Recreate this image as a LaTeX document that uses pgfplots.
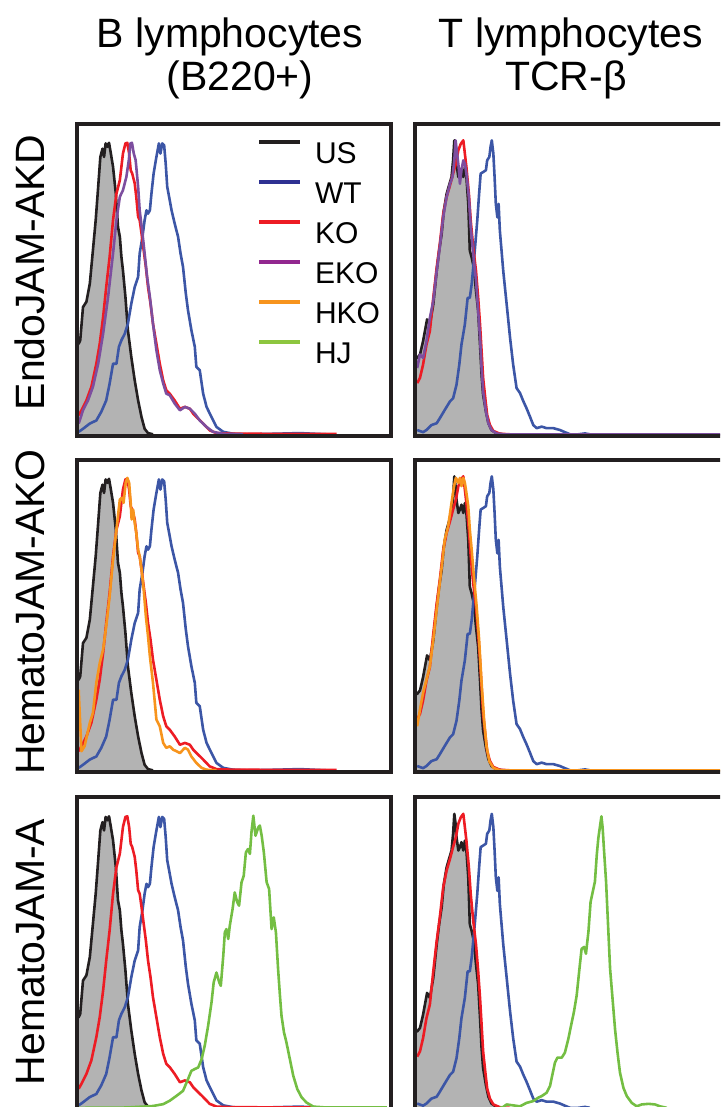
\documentclass[border=0pt]{standalone}
\usepackage{fontspec}
\setmainfont{Liberation Sans}
\usepackage{pgfplots}
\usepackage{pgfplotstable}
\pgfplotsset{compat=1.18}

\definecolor{frame}{HTML}{231F20}
\definecolor{usfill}{HTML}{B3B3B3}
\definecolor{wtc}{HTML}{3C56A6}
\definecolor{koc}{HTML}{ED1C24}
\definecolor{ekoc}{HTML}{7D4E9F}
\definecolor{hkoc}{HTML}{F7941D}
\definecolor{hjc}{HTML}{74BE43}
\definecolor{legwt}{HTML}{2E3192}
\definecolor{legeko}{HTML}{92278F}
\definecolor{leghj}{HTML}{8DC63F}

% B lymphocytes (B220+) histograms, x and y in % of the box
\pgfplotstableread{
x y
-1 29.4
0 29.4
0.5 30.5
1.4 41.3
2.5 43.0
3.6 48.9
4.6 59.7
5.5 69.5
6.3 80.3
7.0 90.0
7.7 92.7
8.2 90.0
8.7 94.4
9.3 93.3
9.8 94.6
10.3 91.7
11.1 86.8
12.0 78.1
12.7 67.3
13.3 64.1
13.8 57.6
14.3 53.2
15.1 44.6
15.9 33.8
17.0 25.1
18.1 17.5
19.2 11.0
20.3 5.6
21.3 1.8
22.4 0.4
24.0 0
}\BUS

\pgfplotstableread{
x y
0 0.8
1.4 1.8
3.6 3.5
5.7 4.5
7.3 7.3
8.9 11.0
10.0 16.5
11.1 22.9
12.2 22.9
13.0 28.4
13.8 30.5
14.9 32.7
15.9 35.9
17.0 42.4
18.1 47.8
19.2 51.1
19.7 58.7
20.6 64.1
21.3 69.5
21.9 72.7
22.4 71.6
23.0 72.7
23.5 78.1
24.2 84.6
25.1 90.0
25.9 94.4
26.4 91.1
27.0 94.4
27.6 93.8
28.1 87.9
28.6 80.3
29.2 77.1
30.0 72.7
31.0 68.4
32.1 64.1
32.9 58.7
33.7 54.3
34.6 45.7
35.3 40.3
36.4 33.8
37.5 28.4
38.0 21.9
39.1 20.8
40.2 13.2
41.3 8.9
42.9 5.6
44.5 2.4
46.7 0.8
49.9 0.2
54.2 0
63.9 0.2
71.4 0.4
80.1 0
}\BWT

\pgfplotstableread{
x y
0 6.2
0.9 7.8
2.5 11.0
4.1 15.4
5.7 22.9
6.8 29.4
7.9 38.1
8.9 47.8
10.0 57.6
11.1 69.5
12.2 78.1
13.3 82.5
14.3 91.1
15.1 94.4
15.7 94.6
16.3 91.1
16.8 85.7
17.3 84.6
18.1 81.4
18.6 77.1
19.2 70.6
19.7 69.5
20.3 65.2
21.0 59.7
21.7 54.3
22.4 47.8
23.2 42.4
24.0 35.9
25.1 29.4
26.2 22.9
27.3 17.5
28.3 14.3
29.4 13.2
31.0 11.0
32.7 8.3
34.3 8.9
35.9 8.3
37.0 6.7
38.6 5.1
40.2 3.5
42.3 1.3
44.5 0.4
49.9 0.2
83.3 0.1
}\BKO

\pgfplotstableread{
x y
0 3.5
1.4 7.8
3.0 11.0
4.6 15.4
6.3 22.9
7.9 32.7
9.5 44.6
11.1 58.7
12.2 69.5
13.3 77.1
14.3 79.2
15.4 83.5
16.2 89.0
16.7 94.4
17.2 94.6
17.8 91.1
18.4 89.0
19.2 80.3
19.7 72.7
20.6 65.2
21.3 58.7
22.1 51.1
23.0 44.6
24.0 35.9
25.1 27.3
26.2 20.8
27.3 16.5
28.3 13.2
29.4 12.7
31.0 10.0
32.7 7.8
34.3 8.9
35.9 8.3
37.5 6.7
39.1 4.5
41.3 2.4
43.4 0.8
46.6 0.2
53.1 0
}\BEKO

\pgfplotstableread{
x y
0 26.2
0.9 6.2
1.9 7.8
3.6 15.4
4.6 18.6
5.7 28.4
6.8 34.8
7.9 39.2
8.9 46.8
10.0 56.5
11.1 68.4
12.2 78.1
13.3 87.9
14.0 88.4
14.5 86.8
15.2 93.3
15.7 94.9
16.3 93.3
16.8 86.8
17.1 81.4
17.6 84.6
18.1 80.3
18.6 77.1
19.2 71.6
19.7 69.5
20.3 65.2
21.0 58.7
21.7 50.0
22.4 43.5
23.0 37.0
24.0 28.4
25.1 16.5
26.2 14.3
27.3 8.9
28.3 7.3
29.4 7.8
30.5 6.7
31.6 6.2
32.7 5.6
34.3 7.3
35.3 6.7
36.4 4.5
38.0 2.4
39.7 0.8
41.3 0.2
44.5 0
}\BHKO

\pgfplotstableread{
x y
0 0
15.4 0.1
20.8 0.4
24.0 0.6
27.3 1.2
29.4 2.3
31.6 3.9
33.7 5.5
35.3 9.3
36.4 12.0
37.5 12.6
38.6 13.1
39.7 15.8
40.7 20.1
41.8 26.6
42.9 34.2
43.6 40.7
44.5 43.9
45.4 40.7
45.9 39.6
46.7 49.4
47.2 56.9
47.7 58.0
48.3 54.8
48.8 59.1
49.7 64.5
50.4 69.9
51.2 66.7
51.8 65.6
52.6 73.2
53.3 75.3
54.0 82.9
54.7 84.0
55.3 82.4
55.8 89.4
56.4 94.8
57.1 88.3
58.0 91.0
58.5 91.6
59.1 88.3
59.8 82.9
60.7 73.2
61.5 71.0
62.3 58.0
63.0 61.8
63.7 56.9
64.4 45.0
65.0 36.4
65.5 29.9
66.3 24.5
67.1 21.2
68.2 15.8
69.3 10.4
70.6 6.1
72.0 3.4
73.6 1.7
75.8 0.4
80.1 0.1
99.5 0.1
}\BHJ

% T lymphocytes (TCR-beta) histograms
\pgfplotstableread{
x y
-1 24.8
0 24.8
0.9 25.9
1.9 30.2
2.5 33.5
3.2 37.3
4.1 35.7
5.2 42.2
6.3 53.0
7.1 59.6
7.9 65.0
8.6 72.6
9.5 78.0
10.3 80.8
11.1 83.5
11.6 88.9
12.0 95.4
12.4 92.2
12.7 87.8
13.3 83.5
13.8 84.6
14.3 86.2
14.9 83.5
15.4 86.7
15.9 83.5
16.5 74.8
17.0 59.6
17.6 57.4
18.3 54.1
19.0 46.5
19.7 40.0
20.3 29.1
20.8 19.3
21.3 12.8
22.2 7.4
23.0 3.6
24.0 1.4
25.6 0.3
27.8 0
}\TUS

\pgfplotstableread{
x y
0 1.4
1.9 0.7
3.0 1.4
4.6 3.0
6.3 3.6
7.3 5.2
8.9 7.9
10.6 10.7
11.6 11.7
12.7 16.1
13.6 22.6
14.3 29.1
15.4 35.7
16.3 44.3
17.0 44.3
17.6 48.7
18.1 54.1
18.6 59.6
19.4 69.3
20.0 78.0
20.5 84.6
21.3 85.1
22.2 85.7
22.6 88.9
23.3 90.0
23.7 93.3
24.1 95.4
24.6 91.1
25.0 83.5
25.4 74.8
25.9 70.4
26.3 74.8
26.7 66.1
27.8 53.0
28.9 42.2
30.0 31.3
31.0 22.6
32.1 15.0
33.2 13.4
34.3 10.7
35.3 8.5
36.4 5.8
37.5 3.0
38.6 2.0
40.2 2.5
41.8 2.0
44.0 2.0
46.1 1.4
47.7 0.7
49.4 0
52.0 0
54.2 0.3
55.8 0
}\TWT

\pgfplotstableread{
x y
0 16.6
0.9 18.3
1.9 22.6
3.0 29.1
4.1 33.5
5.2 44.3
6.3 54.1
7.3 61.7
8.4 71.5
9.5 77.0
10.6 80.8
11.6 84.6
12.5 87.8
13.3 92.2
14.1 94.3
14.9 95.4
15.4 91.1
15.9 86.7
16.7 78.0
17.3 69.3
18.1 60.7
19.0 53.0
19.7 44.3
20.3 35.7
20.8 27.0
21.3 18.3
22.0 11.7
22.6 6.3
23.5 3.0
24.6 1.1
26.7 0.2
30.0 0
}\TKO

\pgfplotstableread{
x y
0 21.5
0.9 25.9
1.9 24.8
3.0 30.2
4.1 37.8
5.2 43.3
6.3 53.0
7.3 60.7
8.4 70.4
9.5 77.0
10.6 81.3
11.4 83.5
12.0 88.9
12.4 95.4
12.9 91.1
13.4 86.7
13.8 81.3
14.3 85.7
14.9 88.9
15.4 87.8
15.9 84.6
16.7 77.0
17.3 67.2
18.1 58.5
19.0 49.8
19.7 40.0
20.3 31.3
20.8 21.5
21.3 13.9
22.2 7.4
23.0 3.6
24.0 1.4
25.6 0.3
27.8 0
101 0
}\TEKO

\pgfplotstableread{
x y
0 14.3
0.9 19.7
1.9 25.1
3.0 29.4
4.1 33.8
5.2 42.4
6.3 52.2
7.3 60.8
8.2 68.4
8.9 74.9
10.0 79.2
11.1 86.8
11.9 92.2
12.5 94.9
13.3 93.3
13.8 94.9
14.3 92.2
14.9 94.9
15.4 93.3
15.9 90.0
16.5 85.7
17.0 78.1
17.6 71.6
18.3 63.0
19.2 53.2
20.0 42.4
20.8 28.4
21.6 16.5
22.4 7.8
23.3 2.9
24.6 0.8
26.7 0
101 0
}\THKO

\pgfplotstableread{
x y
26.7 0
27.8 0.3
28.9 1.1
31.0 0.8
33.2 0.5
35.3 1.6
37.5 2.2
39.1 3.3
40.2 3.8
41.8 4.9
42.9 7.1
43.8 11.4
44.5 14.7
45.3 16.3
46.7 16.3
47.7 17.9
48.8 22.3
49.9 27.7
50.6 31.0
51.5 36.4
52.4 45.1
53.1 51.6
53.9 52.2
54.5 50.0
55.3 57.1
56.0 66.8
56.7 70.1
57.4 73.4
58.0 82.1
58.5 87.5
59.1 91.8
59.5 94.6
59.9 90.8
60.3 84.2
61.0 73.4
61.6 60.3
62.3 45.1
63.1 35.3
63.9 25.5
64.7 17.9
65.5 11.4
66.6 6.5
67.7 3.8
69.3 1.6
70.9 0.5
72.5 1.1
74.7 1.3
76.8 1.1
78.4 0.5
80.6 0
}\THJ

\pgfplotsset{
  histo/.style={
    scale only axis, width=157pt, height=156.25pt,
    xmin=-0.7, xmax=100.7, ymin=-0.7, ymax=100.7,
    xtick=\empty, ytick=\empty,
    axis line style={line width=2pt, draw=frame},
    axis on top, no markers, anchor=south west,
  },
  curve/.style={line width=1.3pt, line join=round, forget plot},
  grayfill/.style={fill=usfill, draw=none, forget plot},
}
\newcommand{\titlefont}{\fontsize{20.5}{24}\selectfont}

\begin{document}
\begin{tikzpicture}
\useasboundingbox (0,0) rectangle (360pt,553.5pt);
\clip (0,0) rectangle (360pt,553.5pt);

% column titles
\node[anchor=base, inner sep=0pt] at (115pt,529.75pt) {\titlefont B lymphocytes};
\node[anchor=base, inner sep=0pt] at (120pt,508pt) {\titlefont (B220+)};
\node[anchor=base, inner sep=0pt] at (285.5pt,529.75pt) {\titlefont T lymphocytes};
\node[anchor=base, inner sep=0pt] at (283pt,508pt) {\titlefont TCR-β};

% row labels
\node[anchor=base, rotate=90, inner sep=0pt] at (22pt,417.25pt) {\titlefont EndoJAM-AKD};
\node[anchor=base, rotate=90, inner sep=0pt] at (22pt,247.5pt) {\titlefont HematoJAM-AKO};
\node[anchor=base, rotate=90, inner sep=0pt] at (22pt,77.5pt) {\titlefont HematoJAM-A};

% row 1, B cells
\begin{axis}[histo, at={(38.25pt,335.25pt)},
  legend cell align=left,
  legend image code/.code={\path (0pt,0pt); \draw[#1, line width=2pt] (0pt,5.4pt) -- (20.5pt,5.4pt);},
  legend style={at={(rel axis cs:0.575,0.949)}, anchor=north west, draw=none, fill=none,
    inner sep=0pt, outer sep=0pt, row sep=8.26pt,
    font=\fontsize{15}{18}\selectfont,
    nodes={inner sep=0pt, outer sep=0pt, text height=10.74pt, text depth=0pt},
    /tikz/every odd column/.append style={column sep=6.5pt}},
]
\addplot[grayfill] table {\BUS} \closedcycle;
\addplot[curve, frame] table {\BUS};
\addplot[curve, wtc] table {\BWT};
\addplot[curve, koc] table {\BKO};
\addplot[curve, ekoc] table {\BEKO};
\addlegendimage{frame}\addlegendentry{US}
\addlegendimage{legwt}\addlegendentry{WT}
\addlegendimage{koc}\addlegendentry{KO}
\addlegendimage{legeko}\addlegendentry{EKO}
\addlegendimage{hkoc}\addlegendentry{HKO}
\addlegendimage{leghj}\addlegendentry{HJ}
\end{axis}

% row 1, T cells
\begin{axis}[histo, at={(207.5pt,335.25pt)}]
\addplot[grayfill] table {\TUS} \closedcycle;
\addplot[curve, frame] table {\TUS};
\addplot[curve, wtc] table {\TWT};
\addplot[curve, koc] table {\TKO};
\addplot[curve, ekoc] table {\TEKO};
\end{axis}

% row 2, B cells
\begin{axis}[histo, at={(38.25pt,167.25pt)}]
\addplot[grayfill] table {\BUS} \closedcycle;
\addplot[curve, frame] table {\BUS};
\addplot[curve, wtc] table {\BWT};
\addplot[curve, koc] table {\BKO};
\addplot[curve, hkoc] table {\BHKO};
\end{axis}

% row 2, T cells
\begin{axis}[histo, at={(207.5pt,167.25pt)}]
\addplot[grayfill] table {\TUS} \closedcycle;
\addplot[curve, frame] table {\TUS};
\addplot[curve, wtc] table {\TWT};
\addplot[curve, koc] table {\TKO};
\addplot[curve, hkoc] table {\THKO};
\end{axis}

% row 3, B cells
\begin{axis}[histo, at={(38.25pt,-1.5pt)}]
\addplot[grayfill] table {\BUS} \closedcycle;
\addplot[curve, frame] table {\BUS};
\addplot[curve, wtc] table {\BWT};
\addplot[curve, koc] table {\BKO};
\addplot[curve, hjc] table {\BHJ};
\end{axis}

% row 3, T cells
\begin{axis}[histo, at={(207.5pt,-1.5pt)}]
\addplot[grayfill] table {\TUS} \closedcycle;
\addplot[curve, frame] table {\TUS};
\addplot[curve, wtc] table {\TWT};
\addplot[curve, koc] table {\TKO};
\addplot[curve, hjc] table {\THJ};
\end{axis}
\end{tikzpicture}
\end{document}
